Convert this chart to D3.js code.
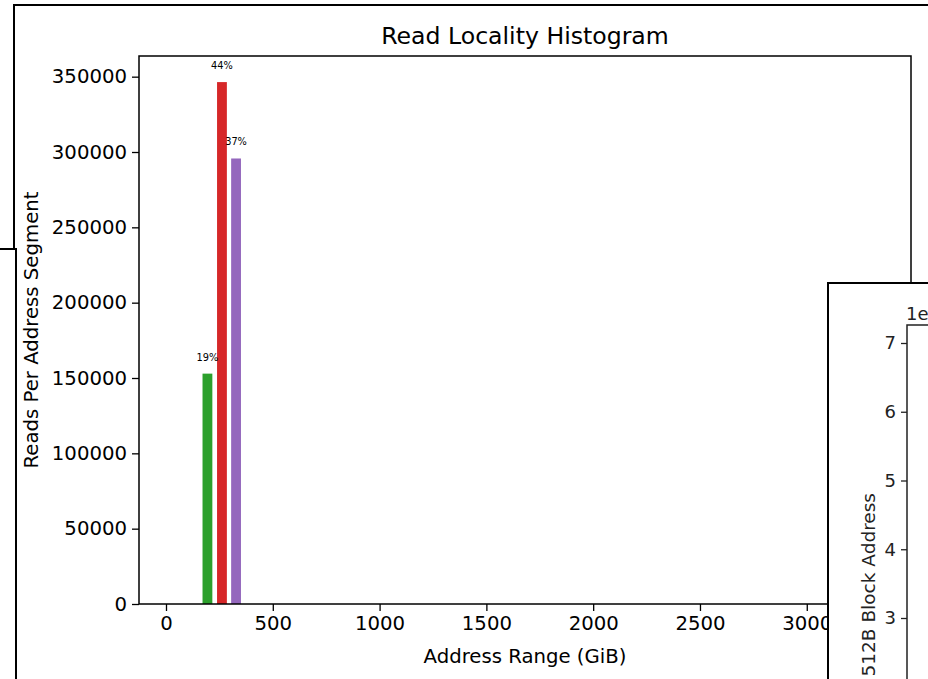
<!DOCTYPE html>
<html>
<head>
<meta charset="utf-8">
<script src="https://cdn.jsdelivr.net/npm/d3@7"></script>
<style>
  html, body { margin: 0; padding: 0; background: #fff; }
  svg { display: block; font-family: "DejaVu Sans", sans-serif; }
</style>
</head>
<body>
<svg id="chart" width="928" height="679"></svg>
<script>
// Read locality: reads per address segment (GiB), with share labels
const segmentCenters = [194, 262, 328];          // GiB
const segmentReads   = [152900, 346400, 295700];
const segmentShares  = ["19%", "44%", "37%"];
const segmentColors  = ["#2ca02c", "#d62728", "#9467bd"];
const segmentWidth   = 46;                       // GiB

const xTicks = [0, 500, 1000, 1500, 2000, 2500, 3000];
const yTicks = [0, 50000, 100000, 150000, 200000, 250000, 300000, 350000];

// Neighbouring block-address panel (scaled by 1e9)
const blockTicks = [3, 4, 5, 6, 7];

const svg = d3.select("#chart");

// Outer window frame
svg.append("path")
  .attr("d", "M14,249 L14,5 L928,5")
  .attr("fill", "none").attr("stroke", "#000").attr("stroke-width", 2);

// Main histogram axes
const m = { left: 139, right: 911, top: 56, bottom: 604 };
const x = d3.scaleLinear().domain([-126.4, 3488]).range([m.left, m.right]);
const y = d3.scaleLinear().domain([0, 346400 * 1.05]).range([m.bottom, m.top]);

const g = svg.append("g");

g.selectAll("rect.bar")
  .data(segmentCenters)
  .join("rect")
  .attr("class", "bar")
  .attr("x", (d) => x(d - segmentWidth / 2))
  .attr("width", x(segmentWidth) - x(0))
  .attr("y", (d, i) => y(segmentReads[i]))
  .attr("height", (d, i) => y(0) - y(segmentReads[i]))
  .attr("fill", (d, i) => segmentColors[i]);

g.selectAll("text.share")
  .data(segmentCenters)
  .join("text")
  .attr("class", "share")
  .attr("x", (d) => x(d))
  .attr("y", (d, i) => y(segmentReads[i]) - 13)
  .attr("text-anchor", "middle")
  .attr("font-size", "9.8px")
  .attr("fill", "#000")
  .text((d, i) => segmentShares[i]);

const xAxis = d3.axisBottom(x).tickValues(xTicks).tickSize(7).tickPadding(5).tickFormat(d3.format("d"));
const yAxis = d3.axisLeft(y).tickValues(yTicks).tickSize(7).tickPadding(5).tickFormat(d3.format("d"));

const gx = g.append("g").attr("transform", `translate(0,${m.bottom})`).call(xAxis);
const gy = g.append("g").attr("transform", `translate(${m.left},0)`).call(yAxis);
[gx, gy].forEach((a) => {
  a.select(".domain").remove();
  a.selectAll("line").attr("stroke", "#000").attr("stroke-width", 1.3);
  a.selectAll("text").attr("font-size", "19.7px").attr("fill", "#000")
    .attr("font-family", "DejaVu Sans, sans-serif");
});

// Spines
g.append("rect")
  .attr("x", m.left).attr("y", m.top)
  .attr("width", m.right - m.left).attr("height", m.bottom - m.top)
  .attr("fill", "none").attr("stroke", "#000").attr("stroke-width", 1.5);

g.append("text")
  .attr("x", (m.left + m.right) / 2).attr("y", 44)
  .attr("text-anchor", "middle").attr("font-size", "23.6px")
  .text("Read Locality Histogram");

g.append("text")
  .attr("x", (m.left + m.right) / 2).attr("y", 663)
  .attr("text-anchor", "middle").attr("font-size", "19.7px")
  .text("Address Range (GiB)");

g.append("text")
  .attr("transform", `translate(38,${(m.top + m.bottom) / 2}) rotate(-90)`)
  .attr("text-anchor", "middle").attr("font-size", "19.7px")
  .text("Reads Per Address Segment");

// Left window overlapping the histogram frame
svg.append("rect")
  .attr("x", -10).attr("y", 249).attr("width", 26).attr("height", 450)
  .attr("fill", "#fff").attr("stroke", "#000").attr("stroke-width", 2);

// Block-address window in the lower right
const p = svg.append("g");
p.append("rect")
  .attr("x", 828).attr("y", 283).attr("width", 120).attr("height", 420)
  .attr("fill", "#fff").attr("stroke", "#000").attr("stroke-width", 2);

const by = d3.scaleLinear().domain([3, 7]).range([618, 343]);
const bAxis = d3.axisLeft(by).tickValues(blockTicks).tickSize(6).tickPadding(5).tickFormat(d3.format("d"));
const gb = p.append("g").attr("transform", "translate(907,0)").call(bAxis);
gb.select(".domain").remove();
gb.selectAll("line").attr("stroke", "#222").attr("stroke-width", 1.3);
gb.selectAll("text").attr("font-size", "18px").attr("fill", "#222")
  .attr("font-family", "DejaVu Sans, sans-serif");

p.append("path")
  .attr("d", "M907,700 L907,325 L940,325")
  .attr("fill", "none").attr("stroke", "#222").attr("stroke-width", 1.5);

// Axis offset (×10⁹)
p.append("text")
  .attr("x", 906).attr("y", 320)
  .attr("font-size", "18px").attr("fill", "#222")
  .text("1e");

p.append("text")
  .attr("transform", "translate(875,493) rotate(-90)")
  .attr("text-anchor", "end").attr("font-size", "18.5px").attr("fill", "#222")
  .text("512B Block Address");
</script>
</body>
</html>
